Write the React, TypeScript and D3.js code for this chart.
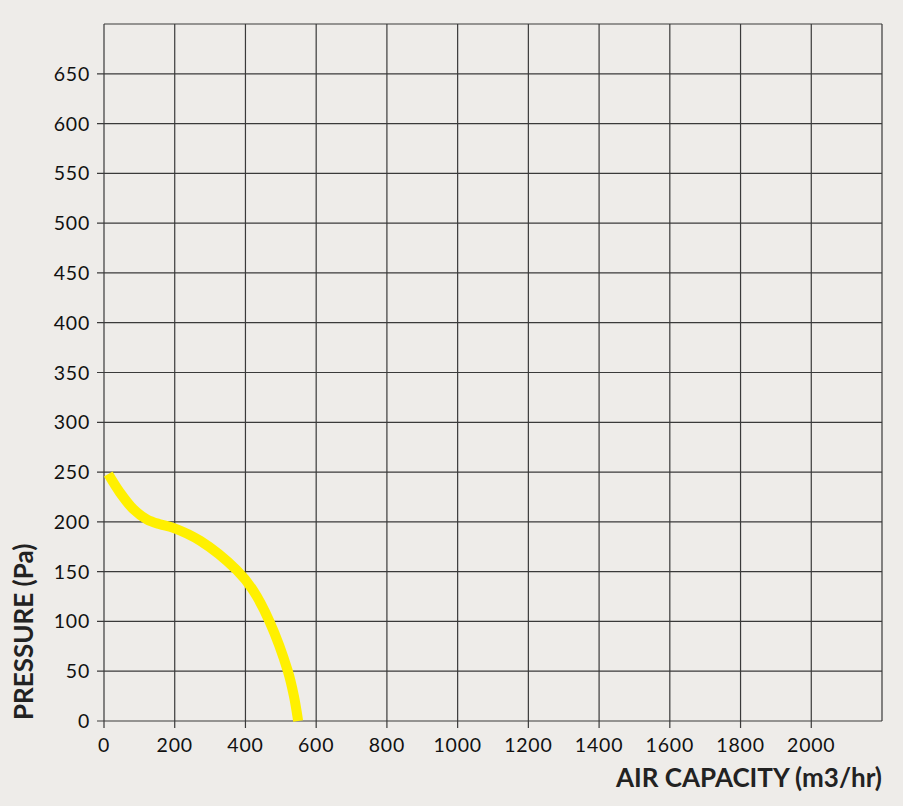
import { useEffect, useRef } from 'react';
import * as d3 from 'd3';

// fan curve
const airCapacity = [12, 45, 83, 121, 158, 196, 272, 375, 421, 468, 520, 537, 549];
const pressure = [248, 229.5, 212.7, 202.6, 197.6, 194, 181, 151.6, 131.6, 100, 50, 25, 0];

const xTicks = [0, 200, 400, 600, 800, 1000, 1200, 1400, 1600, 1800, 2000];
const yTicks = [0, 50, 100, 150, 200, 250, 300, 350, 400, 450, 500, 550, 600, 650];

export default function App() {
  const svgRef = useRef<SVGSVGElement>(null);

  useEffect(() => {
    if (!svgRef.current) return;
    const width = 903;
    const height = 806;
    const svg = d3.select(svgRef.current);
    svg.selectAll('*').remove();

    const x = d3.scaleLinear().domain([0, 2200]).range([104, 882]);
    const y = d3.scaleLinear().domain([0, 700]).range([721, 24]);

    svg.append('rect').attr('width', width).attr('height', height).attr('fill', '#eeece9');

    const grid = svg.append('g').attr('stroke', '#3a3a3a').attr('stroke-width', 1.2);

    // vertical grid lines + ticks below
    d3.range(0, 2201, 200).forEach(v => {
      grid.append('line')
        .attr('x1', x(v)).attr('x2', x(v))
        .attr('y1', y(700)).attr('y2', v <= 2000 ? y(0) + 7 : y(0));
    });
    // horizontal grid lines + ticks to the left
    d3.range(0, 701, 50).forEach(v => {
      grid.append('line')
        .attr('x1', v <= 650 ? x(0) - 7 : x(0)).attr('x2', x(2200))
        .attr('y1', y(v)).attr('y2', y(v));
    });

    const font = 'Lato, "Open Sans", sans-serif';

    svg.append('g')
      .selectAll('text')
      .data(yTicks)
      .join('text')
      .attr('x', 90)
      .attr('y', d => y(d))
      .attr('dy', '0.36em')
      .attr('text-anchor', 'end')
      .style('font-family', font)
      .style('font-size', '19.5px')
      .style('letter-spacing', '0.8px')
      .style('fill', '#111')
      .text(d => d);

    svg.append('g')
      .selectAll('text')
      .data(xTicks)
      .join('text')
      .attr('x', d => x(d))
      .attr('y', 752)
      .attr('text-anchor', 'middle')
      .style('font-family', font)
      .style('font-size', '19.5px')
      .style('letter-spacing', '0.8px')
      .style('fill', '#111')
      .text(d => d);

    svg.append('text')
      .attr('x', 882)
      .attr('y', 787)
      .attr('text-anchor', 'end')
      .style('font-family', font)
      .style('font-size', '26px')
      .style('font-weight', 700)
      .style('fill', '#222')
      .text('AIR CAPACITY (m3/hr)');

    svg.append('text')
      .attr('transform', 'translate(33,720) rotate(-90)')
      .attr('text-anchor', 'start')
      .style('font-family', font)
      .style('font-size', '26px')
      .style('font-weight', 700)
      .style('fill', '#222')
      .text('PRESSURE (Pa)');

    const line = d3.line<number>()
      .x((_, i) => x(airCapacity[i]))
      .y(d => y(d))
      .curve(d3.curveCatmullRom.alpha(0.5));

    svg.append('path')
      .datum(pressure)
      .attr('d', line)
      .attr('fill', 'none')
      .attr('stroke', '#fff000')
      .attr('stroke-width', 10);
  }, []);

  return (
    <svg
      ref={svgRef}
      width={903}
      height={806}
      style={{ position: 'absolute', left: 0, top: 0, display: 'block' }}
    />
  );
}
